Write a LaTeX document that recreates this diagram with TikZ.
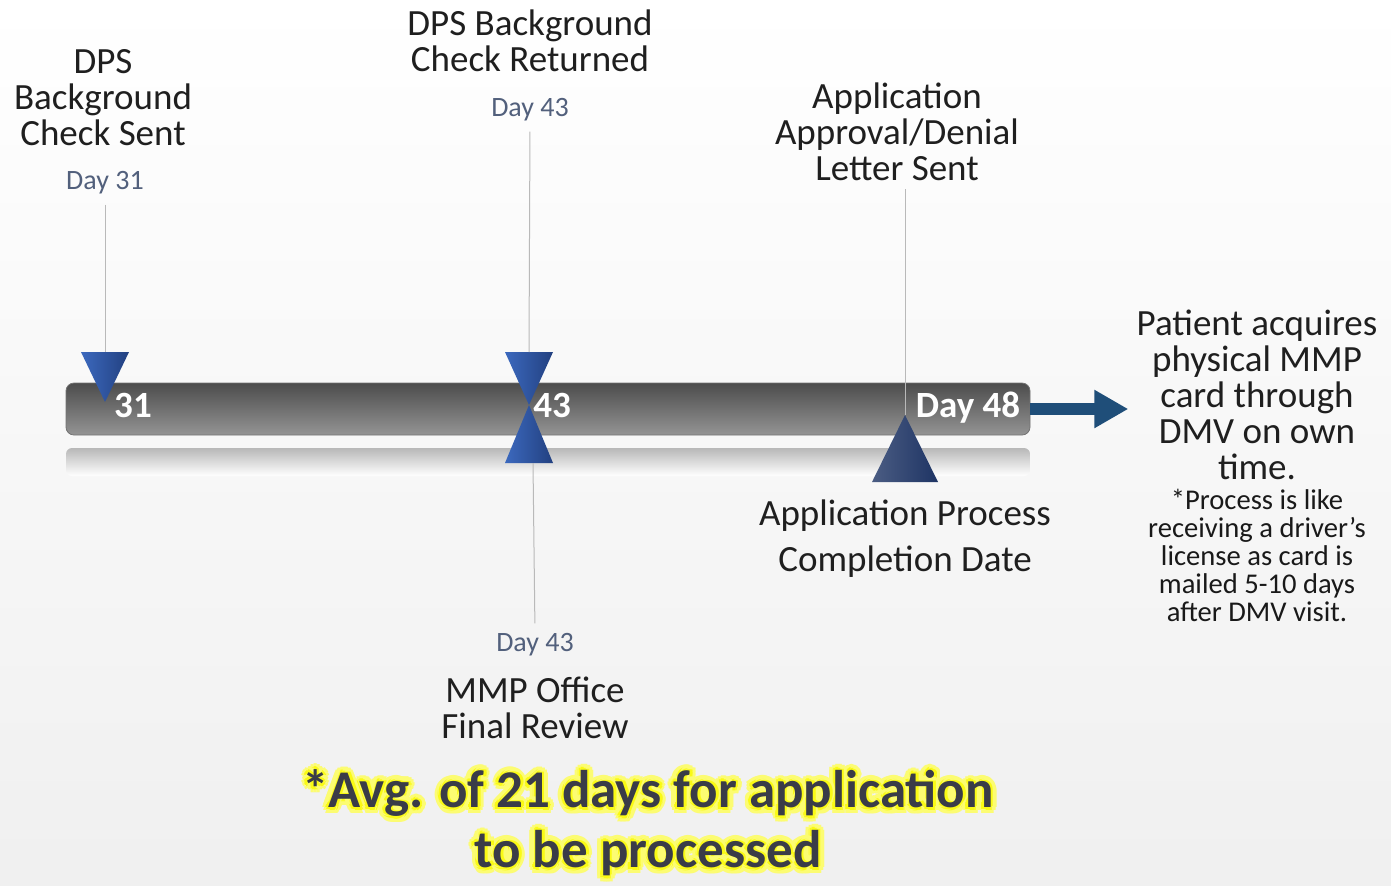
\documentclass[tikz,border=0pt]{standalone}
\usepackage{fontspec}
\setmainfont{Carlito}
\usetikzlibrary{arrows.meta,positioning}
\definecolor{daygray}{RGB}{82,96,124}
\definecolor{trblue}{RGB}{60,105,190}
\definecolor{trdark}{RGB}{34,64,128}
\definecolor{navy}{RGB}{30,52,100}
\definecolor{arrblue}{RGB}{31,78,121}
\definecolor{avgtext}{RGB}{58,60,72}
\definecolor{glowyel}{RGB}{250,250,20}

\begin{document}
\begin{tikzpicture}[
  x=0.5pt, y=-0.5pt,
  evt/.style={align=center, font=\fontsize{18.5}{18}\selectfont, text=black!88, inner sep=0pt},
  note/.style={align=center, font=\fontsize{14.3}{14}\selectfont, text=black!90, inner sep=0pt},
  daylbl/.style={font=\fontsize{14}{16}\selectfont, text=daygray, inner sep=0pt},
  barnum/.style={font=\bfseries\fontsize{18.5}{18}\selectfont, text=white, inner sep=0pt},
  avg/.style={align=center, font=\bfseries\fontsize{26.5}{30}\selectfont, inner sep=0pt},
  stem/.style={draw=gray!55, line width=0.5pt},
  tri/.style={left color=trblue, right color=trdark},
  arrow/.style={-{Triangle[length=17pt,width=18pt]}, line width=6pt, arrblue}
]
\useasboundingbox (0,0) rectangle (1391,885);
\shade[top color=white, bottom color=black!6] (0,0) rectangle (1391,885);

% timeline bar and its reflection
\shade[top color=black!28, bottom color=white, rounded corners=3pt] (66,448) rectangle (1030,476);
\node[draw=black!55, top color=black!70, bottom color=black!42, rounded corners=4pt,
  minimum width=482pt, minimum height=26pt, inner sep=0pt] (bar) at (548,409) {};

% markers
\coordinate (t31) at (105,352);
\coordinate (t43) at (529,352);
\coordinate (t43b) at (533,463);
\coordinate (t48) at (905,415);
\shade[tri] (81,352) -- (129,352) -- (105,402) -- cycle;
\shade[tri] (505,352) -- (553,352) -- (529,405) -- cycle;
\shade[tri] (529,405) -- (505,463) -- (553,463) -- cycle;

% labels above
\node[evt] (sent) at (103,98) {DPS\\Background\\Check Sent};
\node[daylbl] (d31) at (105,183) {Day 31};
\node[evt] (returned) at (530,41) {DPS Background\\Check Returned};
\node[daylbl] (d43) at (530,110) {Day 43};
\node[evt] (approval) at (897,132) {Application\\Approval/Denial\\Letter Sent};

% labels below
\node[daylbl] (d43b) at (535,645) {Day 43};
\node[evt] (review) at (535,708) {MMP Office\\Final Review};
\node[evt, font=\fontsize{18.5}{23}\selectfont] (completion) at (905,539) {Application Process\\Completion Date};

\draw[stem, shorten <=5pt] (d31.south) -- (t31);
\draw[stem, shorten <=5pt] (d43.south) -- (t43);
\draw[stem, shorten <=5pt] (d43b.north) -- (t43b);
\draw[stem, shorten <=4pt] (approval.south -| t48) -- (t48);
\shade[left color=navy!80, right color=navy] (905,415) -- (872,482) -- (938,482) -- cycle;

\node[barnum] (n31) at (133,405) {31};
\node[barnum] (n43) at (552,405) {43};
\node[barnum] (n48) at (968,408) {Day 48};

% after the process
\node[evt] (patient) at (1257,395) {Patient acquires\\physical MMP\\card through\\DMV on own\\time.};
\node[note, below=4pt of patient] (dmvnote) {*Process is like\\receiving a driver’s\\license as card is\\mailed 5-10 days\\after DMV visit.};
\draw[arrow, shorten >=4pt] (bar.east) -- (patient.west |- bar.east);

% average note with glow
\foreach \a in {0,30,...,330} {
  \path (648,823) ++(\a:6) node[avg, text=glowyel!60] (glowa\a) {*Avg. of 21 days for application\\to be processed};
  \path (648,823) ++(\a:3) node[avg, text=glowyel] (glowb\a) {*Avg. of 21 days for application\\to be processed};
}
\node[avg, text=avgtext] (avgnote) at (648,823) {*Avg. of 21 days for application\\to be processed};
\end{tikzpicture}
\end{document}
